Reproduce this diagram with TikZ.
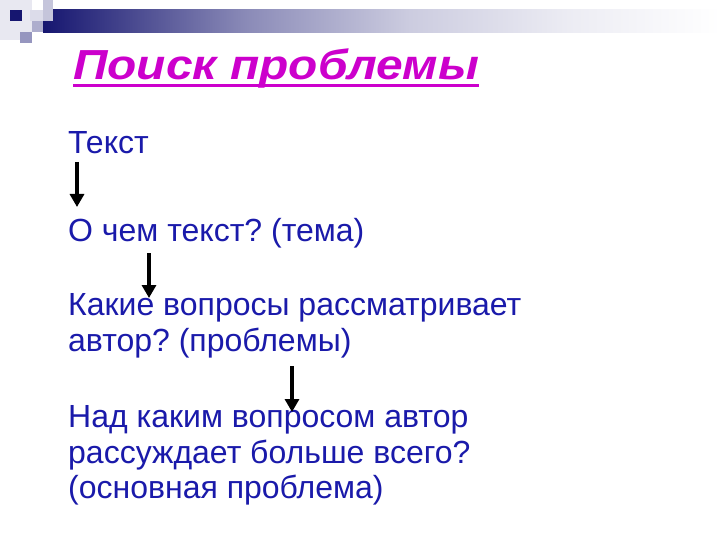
\documentclass[tikz,border=0pt]{standalone}
\usepackage{fontspec}
\setmainfont{Liberation Sans}
\usetikzlibrary{arrows.meta,positioning}
\definecolor{txtblue}{RGB}{26,26,170}
\definecolor{titlemag}{RGB}{204,0,204}
\definecolor{navy}{RGB}{22,22,112}
\pgfdeclarehorizontalshading{barfade}{100bp}{color(0bp)=(navy); color(25bp)=(navy);
  color(40bp)=(navy!50!white); color(52bp)=(navy!22!white); color(64bp)=(navy!8!white);
  color(75bp)=(white); color(100bp)=(white)}
\tikzstyle{arr} = [line width=3.2pt,-{Triangle[width=14pt,length=13pt]}]
\frenchspacing

\begin{document}
\begin{tikzpicture}[x=1pt,y=-1pt]
\tikzset{line/.style={anchor=base west,inner sep=0pt,text=txtblue,font=\fontsize{32}{36}\selectfont},
  ttl/.style={anchor=base west,inner sep=0pt,text=titlemag,font=\fontsize{42}{46}\selectfont\bfseries\itshape}}
\useasboundingbox (0,0) rectangle (720,540);
% corner decoration
\fill[navy!10] (0,0) rectangle (32,40);
\shade[shading=barfade] (43,10) rectangle (720,33);
\fill[navy!25] (43,0) rectangle (53,21);
\fill[navy!15] (30,10) rectangle (43,21);
\fill[navy!35] (32,21) rectangle (43,32);
\fill[navy!45] (20,32) rectangle (32,43);
\fill[navy] (10,10) rectangle (22,21);

\node[ttl] (title) at (73,80) {\scalebox{1.14}[1]{Поиск проблемы}};
\draw[titlemag,line width=3pt] ([yshift=-6pt]title.base west) -- ([yshift=-6pt]title.base east);

\node[line] (t1) at (68,154) {Текст};
\node[line] (t2) at (68,241) {О чем текст? (тема)};
\node[line] (t3a) at (68,315) {Какие вопросы рассматривает};
\node[line] (t3b) at (68,351) {автор? (проблемы)};
\node[line] (t4a) at (68,427) {Над каким вопросом автор};
\node[line] (t4b) at (68,463) {рассуждает больше всего?};
\node[line] (t4c) at (68,498) {(основная проблема)};

\draw[arr] ([shift={(9pt,-8pt)}]t1.base west) -- ([shift={(9pt,34pt)}]t2.base west);
\draw[arr] ([shift={(81pt,-12pt)}]t2.base west) -- ([shift={(81pt,17pt)}]t3a.base west);
\draw[arr] ([shift={(224pt,-15pt)}]t3b.base west) -- ([shift={(224pt,15pt)}]t4a.base west);
\end{tikzpicture}
\end{document}
